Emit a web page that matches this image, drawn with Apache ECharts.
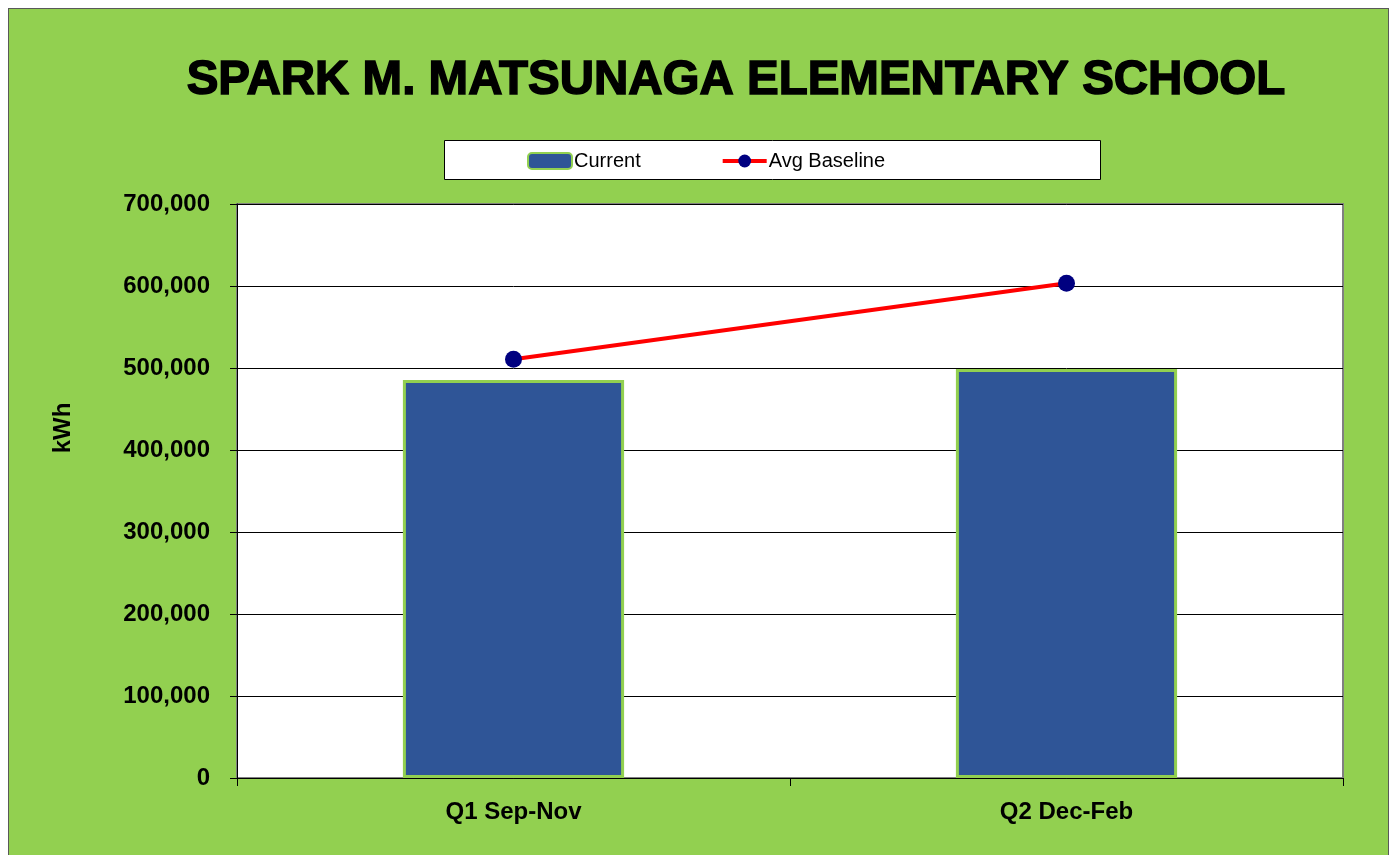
<!DOCTYPE html>
<html>
<head>
<meta charset="utf-8">
<script src="https://cdn.jsdelivr.net/npm/echarts@6/dist/echarts.min.js"></script>
<style>
  html, body { margin: 0; padding: 0; background: #fff; }
  #frame { position: absolute; left: 8px; top: 8px; width: 1379px; height: 860px;
           background: #92D050; border: 1px solid #595959; }
  #main { position: absolute; left: 0; top: 0; width: 1391px; height: 855px; }
</style>
</head>
<body>
<div id="frame"></div>
<div id="main"></div>
<script>
// 数据
const categories = ['Q1 Sep-Nov', 'Q2 Dec-Feb'];
const currentValues = [485400, 498800];
const baselineValues = [510600, 603300];
const yTicks = [0, 100000, 200000, 300000, 400000, 500000, 600000, 700000];

const FONT = "'Liberation Sans', Arial, sans-serif";

const chart = echarts.init(document.getElementById('main'), null, { renderer: 'canvas' });

const option = {
  backgroundColor: 'transparent',
  animation: false,
  title: {
    text: 'SPARK M. MATSUNAGA ELEMENTARY SCHOOL',
    left: 731,
    top: 52,
    textAlign: 'center',
    textStyle: {
      fontFamily: FONT,
      fontSize: 47.5,
      fontWeight: 'bold',
      color: '#000',
      textBorderColor: '#000',
      textBorderWidth: 1.5
    }
  },
  graphic: [
    {
      type: 'rect',
      z: 0,
      shape: { x: 444.5, y: 140.5, width: 656, height: 39 },
      style: { fill: '#fff', stroke: '#000', lineWidth: 1 }
    },
    {
      // y 轴标题
      type: 'text',
      x: 63,
      y: 428,
      rotation: Math.PI / 2,
      style: {
        text: 'kWh',
        font: 'bold 24px ' + FONT,
        fill: '#000',
        align: 'center',
        verticalAlign: 'middle'
      }
    }
  ],
  legend: {
    left: 527,
    top: 151,
    itemWidth: 44,
    itemHeight: 16,
    itemGap: 80,
    padding: 0,
    textStyle: { fontFamily: FONT, fontSize: 20, color: '#000', padding: [0, 0, 0, -3] },
    data: [
      { name: 'Current' },
      { name: 'Avg Baseline', lineStyle: { width: 4, color: '#FF0000' } }
    ]
  },
  grid: {
    left: 237,
    right: 48,
    top: 204,
    bottom: 77,
    show: true,
    backgroundColor: '#fff',
    borderColor: '#808080',
    borderWidth: 2
  },
  xAxis: {
    type: 'category',
    data: categories,
    axisLine: { lineStyle: { color: '#000', width: 1 } },
    axisTick: { show: true, length: 8, lineStyle: { color: '#000' } },
    axisLabel: { margin: 22, fontFamily: FONT, fontSize: 24, fontWeight: 'bold', color: '#000' }
  },
  yAxis: {
    type: 'value',
    min: 0,
    max: 700000,
    interval: 100000,
    axisLine: { show: true, lineStyle: { color: '#000', width: 1 } },
    axisTick: { show: true, length: 7, inside: false, lineStyle: { color: '#000' } },
    axisLabel: {
      margin: 27,
      fontFamily: FONT, fontSize: 24, fontWeight: 'bold', color: '#000',
      formatter: v => yTicks.includes(v) ? v.toLocaleString('en-US') : ''
    },
    splitLine: { lineStyle: { color: '#000', width: 1 } }
  },
  series: [
    {
      name: 'Current',
      type: 'bar',
      data: currentValues,
      barWidth: '40%',
      itemStyle: { color: '#2F5597', borderColor: '#92D050', borderWidth: 3 }
    },
    {
      name: 'Avg Baseline',
      type: 'line',
      data: baselineValues,
      symbol: 'circle',
      symbolSize: 17,
      lineStyle: { color: '#FF0000', width: 4 },
      itemStyle: { color: '#000080' }
    }
  ]
};

chart.setOption(option);
</script>
</body>
</html>
